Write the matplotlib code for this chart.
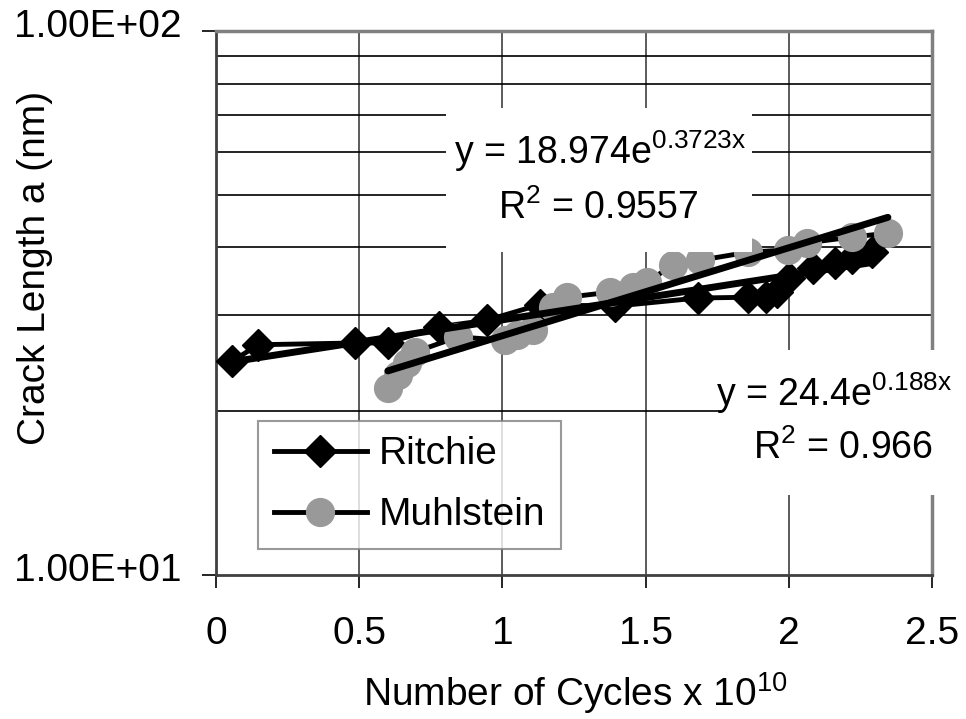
import numpy as np
import matplotlib
matplotlib.use("Agg")
import matplotlib.pyplot as plt
from matplotlib.patches import Rectangle
from matplotlib.ticker import FixedLocator, FuncFormatter, NullFormatter
import matplotlib.transforms as mtrans

plt.rcParams['font.family'] = ['Liberation Sans', 'DejaVu Sans']
plt.rcParams['mathtext.fontset'] = 'custom'
plt.rcParams['mathtext.rm'] = 'Liberation Sans'
plt.rcParams['mathtext.it'] = 'Liberation Sans'

# ---- data ----
ritchie_x = [0.056, 0.147, 0.485, 0.60, 0.78, 0.946, 1.13, 1.393, 1.683, 1.857,
             1.92, 1.96, 2.0, 2.085, 2.16, 2.22, 2.29]
ritchie_y = [24.7, 26.5, 26.7, 26.7, 28.6, 29.4, 31.4, 31.2, 32.3, 32.4,
             32.4, 33.1, 35.2, 36.7, 37.5, 38.3, 39.2]

muhl_x = [0.60, 0.636, 0.667, 0.695, 0.845, 1.01, 1.05, 1.107, 1.177, 1.226,
          1.376, 1.456, 1.505, 1.596, 1.69, 1.857, 1.997, 2.064, 2.22, 2.346]
muhl_y = [22.1, 23.3, 24.5, 25.7, 27.4, 27.0, 27.6, 28.2, 31.1, 32.4,
          33.1, 33.8, 34.6, 37.1, 37.9, 39.2, 39.6, 40.8, 41.8, 42.5]

ritchie_fit = (24.4, 0.188)      # y = a*exp(b*x)
muhl_fit = (18.974, 0.3723)

x_ticks = [0, 0.5, 1, 1.5, 2, 2.5]
x_tick_labels = ["0", "0.5", "1", "1.5", "2", "2.5"]
y_ticks = [10, 100]

FS = 28

# ---- figure ----
W, H = 966, 719
fig = plt.figure(figsize=(W / 100, H / 100), dpi=100)
L, R, T, B = 216, 932, 31, 575
ax = fig.add_axes([L / W, 1 - B / H, (R - L) / W, (B - T) / H])
ax.set_yscale('log')
ax.set_xlim(0, 2.5)
ax.set_ylim(10, 100)

# grid
ax.yaxis.set_minor_locator(FixedLocator([20, 30, 40, 50, 60, 70, 80, 90]))
ax.yaxis.set_minor_formatter(NullFormatter())
ax.yaxis.set_major_locator(FixedLocator(y_ticks))
ax.yaxis.set_major_formatter(FuncFormatter(lambda v, p: f"{v:.2E}"))
ax.grid(True, which='minor', axis='y', color='black', lw=1.2, zorder=0)
ax.set_xticks(x_ticks)
ax.set_xticklabels(x_tick_labels)
ax.grid(True, which='major', axis='x', color='#404040', lw=1.2, zorder=0)
ax.set_axisbelow(True)

ax.tick_params(axis='y', which='major', direction='out', length=10, width=1.2,
               pad=15, labelsize=FS)
ax.tick_params(axis='y', which='minor', length=0)
ax.tick_params(axis='x', which='major', direction='out', length=9.5, width=1.2,
               pad=20, labelsize=FS)
shift = mtrans.ScaledTranslation(0, 6 / 72, fig.dpi_scale_trans)
for lab in ax.get_yticklabels():
    lab.set_transform(lab.get_transform() + shift)

for s in ['top', 'right']:
    ax.spines[s].set_color('#808080')
    ax.spines[s].set_linewidth(2.5)
for s in ['left', 'bottom']:
    ax.spines[s].set_color('#404040')
    ax.spines[s].set_linewidth(2)

# data
ax.plot(ritchie_x, ritchie_y, color='black', lw=3.5, marker='D', ms=16,
        mfc='black', mec='black', zorder=3, label='Ritchie', clip_on=False)
ax.plot(muhl_x, muhl_y, color='black', lw=3.5, marker='o', ms=20,
        mfc='#999999', mec='#999999', zorder=3, label='Muhlstein', clip_on=False)

# trendlines
xr = np.linspace(min(ritchie_x), max(ritchie_x), 100)
ax.plot(xr, ritchie_fit[0] * np.exp(ritchie_fit[1] * xr), color='black', lw=5,
        zorder=4, solid_capstyle='round')
xm = np.linspace(min(muhl_x), max(muhl_x), 100)
ax.plot(xm, muhl_fit[0] * np.exp(muhl_fit[1] * xm), color='black', lw=5,
        zorder=4, solid_capstyle='round')

# trendline labels with white boxes (pixel placement)
def px2ax(px, py):
    return (px - L) / (R - L), (B - py) / (B - T)

x0, y1 = px2ax(446, 108)
x1, y0 = px2ax(752, 252)
ax.add_patch(Rectangle((x0, y0), x1 - x0, y1 - y0, transform=ax.transAxes,
                       facecolor='white', edgecolor='none', zorder=6, clip_on=False))
x0, y1 = px2ax(721, 350)
x1, y0 = px2ax(952, 495)
ax.add_patch(Rectangle((x0, y0), x1 - x0, y1 - y0, transform=ax.transAxes,
                       facecolor='white', edgecolor='none', zorder=6, clip_on=False))

def label(px, py, s):
    x, y = px2ax(px, py)
    ax.text(x, y, s, transform=ax.transAxes, ha='center', va='center',
            fontsize=27, zorder=7, clip_on=False)

label(600, 151, r"y = 18.974e$^{\mathrm{0.3723x}}$")
label(598, 208, r"R$^{\mathrm{2}}$ = 0.9557")
label(834, 393, r"y = 24.4e$^{\mathrm{0.188x}}$")
label(843, 448, r"R$^{\mathrm{2}}$ = 0.966")

# legend
lx0, ly0 = px2ax(258, 549)
leg = ax.legend(loc='lower left', bbox_to_anchor=(lx0, ly0), fontsize=FS,
                frameon=True, fancybox=False, borderaxespad=0, handlelength=2.4,
                handletextpad=0.3, labelspacing=0.65, borderpad=0.4)
leg.get_frame().set_edgecolor('#808080')
leg.get_frame().set_linewidth(1.5)
leg.set_zorder(8)

# axis labels
fig.text(35 / W, 1 - 268 / H, "Crack Length a (nm)", rotation=90, ha='center',
         va='center', fontsize=FS)
fig.text(575 / W, 1 - 693 / H, r"Number of Cycles x 10$^{\mathrm{10}}$",
         ha='center', va='center', fontsize=FS)

fig.savefig("out.png", dpi=100)
